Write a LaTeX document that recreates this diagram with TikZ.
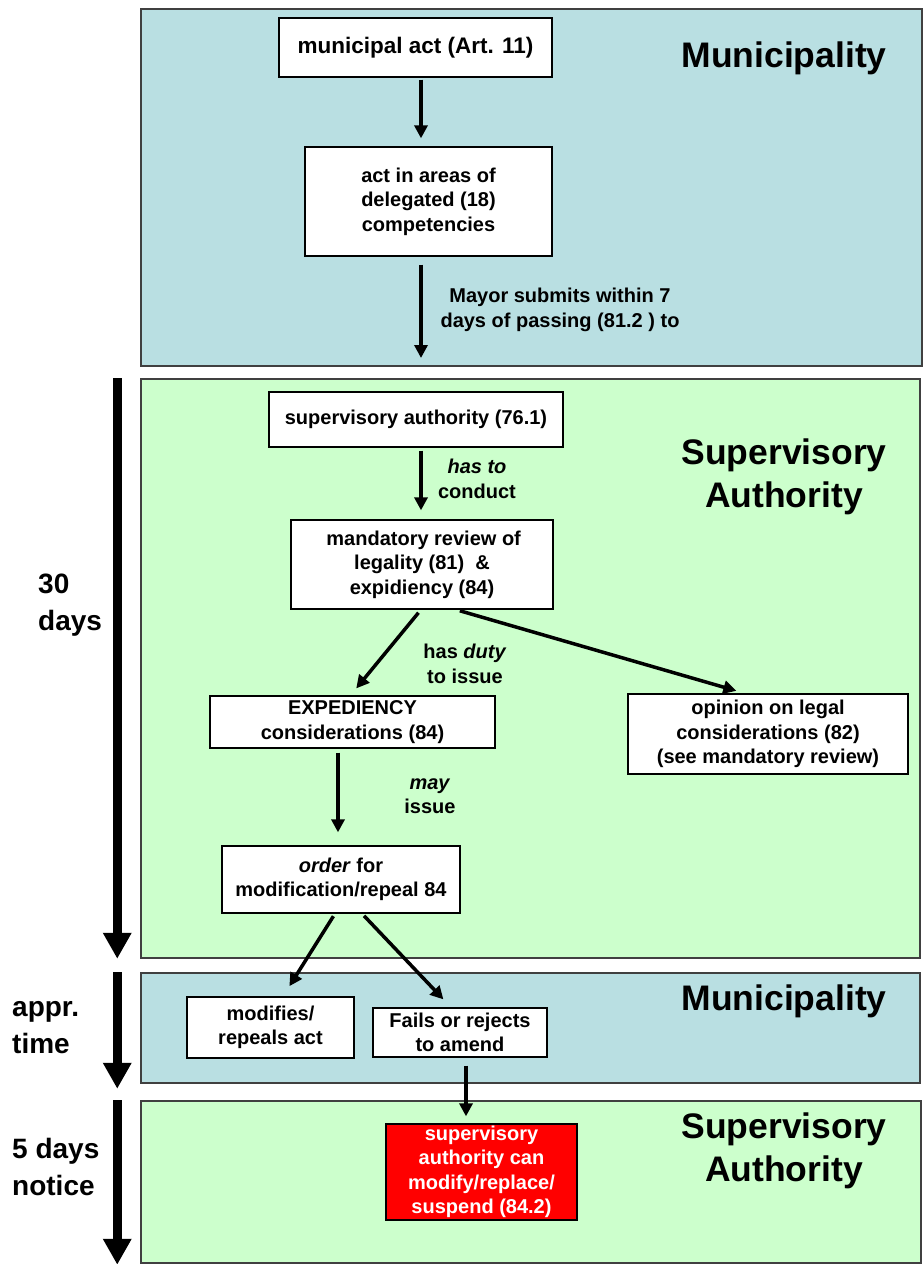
\documentclass[tikz,border=0pt]{standalone}
\usepackage{fontspec}
\setmainfont{Liberation Sans}
\usetikzlibrary{arrows.meta}
\definecolor{munblue}{RGB}{185,223,226}
\definecolor{supgreen}{RGB}{204,255,204}
\definecolor{panelline}{RGB}{64,64,64}
\newcommand{\boxfont}{\fontsize{20}{24.5}\selectfont\bfseries}
\newcommand{\bigboxfont}{\fontsize{22.5}{27}\selectfont\bfseries}
\newcommand{\titlefont}{\fontsize{35.5}{43}\selectfont\bfseries}
\newcommand{\timefont}{\fontsize{28}{37}\selectfont\bfseries}
\tikzset{
	panel/.style={draw=panelline, line width=1.5pt, inner sep=0pt},
	box/.style={draw, fill=white, line width=1.3pt, align=center, font=\boxfont, inner sep=2pt},
	lbl/.style={align=center, font=\boxfont, inner sep=0pt},
	title/.style={align=center, font=\titlefont, inner sep=0pt},
	timelbl/.style={align=left, font=\timefont, anchor=west, inner sep=0pt},
	flow/.style={line width=3.5pt, -{Triangle[width=13pt,length=13pt]}},
	timeline/.style={line width=9.5pt, -{Triangle[width=27pt,length=26pt]}}
}

\begin{document}
\begin{tikzpicture}[x=1pt, y=-1pt]
	\useasboundingbox (0,0) rectangle (923,1264);
	\node[panel, fill=munblue, minimum width=781, minimum height=357] (mun1) at (531.5,187.5) {};
	\node[panel, fill=supgreen, minimum width=779, minimum height=579] (sup1) at (530.5,668.5) {};
	\node[panel, fill=munblue, minimum width=779, minimum height=110] (mun2) at (530.5,1028) {};
	\node[panel, fill=supgreen, minimum width=780, minimum height=162] (sup2) at (531,1182) {};

	\node[title] (muntitle1) at (784,58) {Municipality};
	\node[title] (suptitle1) at (784,477) {Supervisory\\Authority};
	\node[title] (muntitle2) at (784,1001) {Municipality};
	\node[title] (suptitle2) at (784,1151) {Supervisory\\Authority};

	\node[box, font=\bigboxfont, minimum width=273, minimum height=59] (muniact) at (415.5,47.5) {municipal act (Art. 11)};
	\node[box, minimum width=247, minimum height=109] (actareas) at (428.5,201.5) {act in areas of\\delegated (18)\\competencies};
	\node[box, minimum width=294, minimum height=55] (supauth) at (416,419.5) {supervisory authority (76.1)};
	\node[box, minimum width=262, minimum height=89] (review) at (422,564.5) {\,mandatory review of\\legality (81)~ \&\\expidiency (84)};
	\node[box, minimum width=285, minimum height=52] (expedien) at (352.5,722) {EXPEDIENCY\\considerations (84)};
	\node[box, minimum width=280, minimum height=80] (opinion) at (768,734) {opinion on legal\\considerations (82)\\(see mandatory review)};
	\node[box, minimum width=238, minimum height=67] (order) at (341,879.5) {\textit{order} for\\modification/repeal 84};
	\node[box, minimum width=167, minimum height=61] (modifies) at (270.5,1027.5) {modifies/\\repeals act};
	\node[box, minimum width=174, minimum height=49] (fails) at (460,1032.5) {Fails or rejects\\to amend};
	\node[box, fill=red, text=white, inner sep=0pt, minimum width=191, minimum height=96] (suspend) at (481.5,1172) {supervisory\\authority can\\modify/replace/\\suspend (84.2)};

	\coordinate (submit) at (421,358);
	\node[lbl] (mayorlbl) at (560,310) {Mayor submits within 7\\days of passing (81.2 ) to};
	\node[lbl] (conductlbl) at (477,479) {\textit{has to}\\conduct};
	\node[lbl] (dutylbl) at (465,664) {has \textit{duty}\\to issue};
	\node[lbl] (maylbl) at (430,796) {\textit{may}\\issue};

	\draw[flow, shorten <=2pt, shorten >=8pt] ([xshift=5.5pt]muniact.south) -- ([xshift=-7.5pt]actareas.north);
	\draw[flow, shorten <=8pt] ([xshift=-7.5pt]actareas.south) -- (submit);
	\draw[flow, shorten <=3pt, shorten >=9pt] ([xshift=5pt]supauth.south) -- ([xshift=-1pt]review.north);
	\draw[flow, shorten <=4pt, shorten >=9pt] ([xshift=-1pt]review.south) -- ([xshift=-2pt]expedien.north);
	\draw[flow, shorten <=4pt, shorten >=9pt] ([xshift=34pt]review.south) -- ([xshift=-23pt]opinion.north);
	\draw[flow, shorten <=4pt, shorten >=13pt] ([xshift=-14.5pt]expedien.south) -- ([xshift=-3pt]order.north);
	\draw[flow, shorten <=3pt, shorten >=12pt] ([xshift=-6pt]order.south) -- ([xshift=12.5pt]modifies.north);
	\draw[flow, shorten <=3pt, shorten >=11pt] ([xshift=21pt]order.south) -- ([xshift=-9pt]fails.north);
	\draw[flow, shorten <=8pt, shorten >=7pt] ([xshift=6pt]fails.south) -- ([xshift=-15.5pt]suspend.north);

	\draw[timeline] ([xshift=-23pt]sup1.north west) -- ([xshift=-23pt]sup1.south west);
	\draw[timeline, shorten >=-5pt] ([xshift=-23pt]mun2.north west) -- ([xshift=-23pt]mun2.south west);
	\draw[timeline, shorten >=-1pt] ([xshift=-23pt]sup2.north west) -- ([xshift=-23pt]sup2.south west);

	\node[timelbl] (days30) at (38,605) {30\\days};
	\node[timelbl] (apprtime) at (12,1028) {appr.\\time};
	\node[timelbl] (notice5) at (12,1167) {5 days\\notice};
\end{tikzpicture}
\end{document}
